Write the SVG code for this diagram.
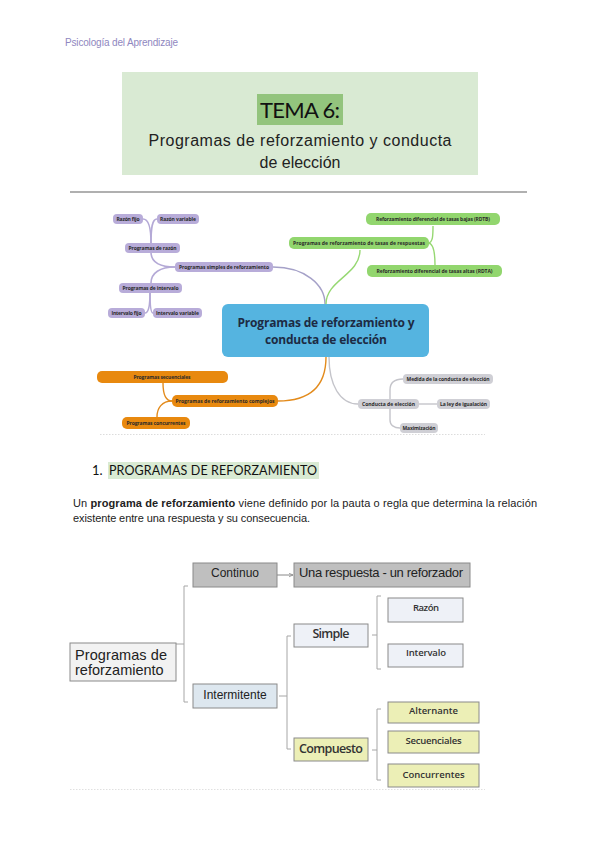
<svg xmlns="http://www.w3.org/2000/svg" width="599" height="848" viewBox="0 0 599 848">
<defs>
<style>
.mm{font-family:"Open Sans","DejaVu Sans",sans-serif;font-weight:700;font-size:5px;fill:#2a2a2a;text-anchor:middle}
.pu{fill:#b8acd9}
.gr{fill:#92d66e}
.or{fill:#e8890f}
.gy{fill:#cfcfd5}
.cp{fill:none;stroke:#b4a9d6;stroke-width:1.6}
.cg{fill:none;stroke:#96d872;stroke-width:1.4}
.co{fill:none;stroke:#e38b1c;stroke-width:1.4}
.cy{fill:none;stroke:#c4c4ca;stroke-width:1.4}
.br{fill:none;stroke:#a6a6a6;stroke-width:1}
.bx{stroke:#8a8a8a;stroke-width:1}
.ar{font-family:"Liberation Sans",Arial,sans-serif;fill:#222}
.gs{font-family:"Open Sans",Lato,sans-serif;font-weight:600;fill:#333;text-anchor:middle}
.ct{font-family:"Open Sans","DejaVu Sans",sans-serif;font-weight:700;font-size:12px;fill:#1d2b44;text-anchor:middle}
</style>
<marker id="ah" viewBox="0 0 10 10" refX="9" refY="5" markerWidth="5" markerHeight="5" orient="auto">
<path d="M0,1 L9,5 L0,9" fill="none" stroke="#888" stroke-width="1.5"/>
</marker>
</defs>
<rect width="599" height="848" fill="#ffffff"/>

<!-- header -->
<text x="65" y="46" font-family="Liberation Sans,Arial,sans-serif" font-size="10" fill="#8f87c0" textLength="113">Psicología del Aprendizaje</text>

<g id="title">
<rect x="122" y="72" width="356" height="103" fill="#d9ead3"/>
<rect x="257" y="94" width="86" height="31" fill="#93c47d"/>
<text x="300" y="118" font-family="Lato,'Open Sans',sans-serif" font-size="22" fill="#111" text-anchor="middle" textLength="80">TEMA 6:</text>
<text x="300" y="146" class="ar" font-size="16" text-anchor="middle" textLength="303">Programas de reforzamiento y conducta</text>
<text x="300" y="168" class="ar" font-size="16" text-anchor="middle">de elección</text>
</g>
<line x1="70" y1="192" x2="527" y2="192" stroke="#b0b0b0" stroke-width="2"/>

<!-- mind map connectors -->
<g id="mm-connectors">
<path class="cp" d="M175,267 C160,267 151,262 151,252"/>
<path class="cp" d="M175,267 C160,267 151,273 151,283"/>
<path class="cp" d="M151,243 C151,228 149,219 143,219"/>
<path class="cp" d="M151,243 C151,228 152,219 157,219"/>
<path class="cp" d="M150,293 C150,307 148,313 145,313"/>
<path class="cp" d="M150,293 C150,307 151,313 153,313"/>
<path fill="none" stroke="#a5a1c8" stroke-width="1.4" d="M273,267 C305,267 325,285 325,304"/>
<path class="cg" d="M326,304 C326,280 360,275 360,250"/>
<path class="cg" d="M428,243 C433,243 433,235 433,226"/>
<path class="cg" d="M428,243 C434,243 435,255 435,265"/>
<path class="co" d="M278,401 C312,401 326,385 326,357"/>
<path class="co" d="M172,401 C165,401 163,392 163,383"/>
<path class="co" d="M172,401 C162,401 157,408 157,417"/>
<path class="cy" d="M329,357 C329,385 340,404 358,404"/>
<path class="cy" d="M419,404 L437,404"/>
<path class="cy" d="M403,379 C394,379 390,383 390,390 L390,420 C390,425 394,428 400,428"/>
</g>

<!-- mind map nodes -->
<g id="mm-center">
<rect x="222" y="304" width="207" height="53" rx="6" fill="#55b4e0"/>
<text class="ct" x="326" y="327" textLength="177">Programas de reforzamiento y</text>
<text class="ct" x="326" y="344" textLength="122">conducta de elección</text>
</g>
<g id="mm-razon-fijo"><rect class="pu" x="113" y="214" width="30" height="10" rx="4"/><text class="mm" x="128" y="220.8" textLength="23">Razón fijo</text></g>
<g id="mm-razon-variable"><rect class="pu" x="157" y="214" width="42" height="10" rx="4"/><text class="mm" x="178" y="220.8" textLength="36">Razón variable</text></g>
<g id="mm-prog-razon"><rect class="pu" x="125" y="243" width="55" height="10" rx="4"/><text class="mm" x="152.5" y="249.8" textLength="48">Programas de razón</text></g>
<g id="mm-prog-simples"><rect class="pu" x="175" y="262" width="98" height="10" rx="4"/><text class="mm" x="224" y="268.8" textLength="90">Programas simples de reforzamiento</text></g>
<g id="mm-prog-intervalo"><rect class="pu" x="119" y="283" width="63" height="10" rx="4"/><text class="mm" x="150.5" y="289.8" textLength="56">Programas de intervalo</text></g>
<g id="mm-intervalo-fijo"><rect class="pu" x="108" y="308" width="37" height="10" rx="4"/><text class="mm" x="126.5" y="314.8" textLength="30">Intervalo fijo</text></g>
<g id="mm-intervalo-variable"><rect class="pu" x="153" y="308" width="49" height="10" rx="4"/><text class="mm" x="177.5" y="314.8" textLength="43">Intervalo variable</text></g>

<g id="mm-rdtb"><rect class="gr" x="366" y="213" width="134" height="12" rx="5"/><text class="mm" x="433" y="220.8" textLength="114">Reforzamiento diferencial de tasas bajas (RDTB)</text></g>
<g id="mm-tasas"><rect class="gr" x="289" y="237" width="140" height="12" rx="5"/><text class="mm" x="359" y="244.8" textLength="132">Programas de reforzamiento de tasas de respuestas</text></g>
<g id="mm-rdta"><rect class="gr" x="367" y="265" width="135" height="12" rx="5"/><text class="mm" x="434.5" y="272.8" textLength="116">Reforzamiento diferencial de tasas altas (RDTA)</text></g>

<g id="mm-secuenciales"><rect class="or" x="97" y="371" width="131" height="12" rx="5"/><text class="mm" x="162" y="378.8" textLength="57">Programas secuenciales</text></g>
<g id="mm-complejos"><rect class="or" x="172" y="395" width="106" height="12" rx="5"/><text class="mm" x="225" y="402.8" textLength="99">Programas de reforzamiento complejos</text></g>
<g id="mm-concurrentes"><rect class="or" x="122" y="417" width="68" height="12" rx="5"/><text class="mm" x="156" y="424.8" textLength="59">Programas concurrentes</text></g>

<g id="mm-medida"><rect class="gy" x="403" y="374" width="90" height="10" rx="4"/><text class="mm" x="448" y="380.8" textLength="83">Medida de la conducta de elección</text></g>
<g id="mm-conducta"><rect class="gy" x="358" y="399" width="61" height="10" rx="4"/><text class="mm" x="388.5" y="405.8" textLength="53">Conducta de elección</text></g>
<g id="mm-ley"><rect class="gy" x="437" y="399" width="53" height="10" rx="4"/><text class="mm" x="463.5" y="405.8" textLength="47">La ley de igualación</text></g>
<g id="mm-max"><rect class="gy" x="400" y="423" width="38" height="10" rx="4"/><text class="mm" x="419" y="429.8" textLength="33">Maximización</text></g>

<line x1="100" y1="434.5" x2="485" y2="434.5" stroke="#dcdcdc" stroke-width="1" stroke-dasharray="1.5,1.5"/>

<!-- section heading -->
<rect x="108" y="462" width="211" height="17" fill="#d9ead3"/>
<text x="92" y="475" font-family="Lato,'Open Sans',sans-serif" font-size="13" fill="#111">1.</text>
<text x="109" y="475" font-family="Lato,'Open Sans',sans-serif" font-size="12.5" fill="#111" textLength="208">PROGRAMAS DE REFORZAMIENTO</text>

<text x="73" y="507" class="ar" font-size="11" textLength="464">Un <tspan font-weight="700">programa de reforzamiento</tspan> viene definido por la pauta o regla que determina la relación</text>
<text x="73" y="522" class="ar" font-size="11" textLength="237">existente entre una respuesta y su consecuencia.</text>

<!-- bottom diagram connectors -->
<g id="tree-connectors">
<path class="br" d="M188,586 L184,586 L184,702 L188,702 M176,644 L184,644"/>
<path class="br" d="M291,636 L287,636 L287,749 L291,749 M279,696 L287,696"/>
<path class="br" d="M381,596 L377,596 L377,669 L381,669 M372,635 L377,635"/>
<path class="br" d="M381,709 L377,709 L377,780 L381,780 M372,750 L377,750"/>
<line x1="277" y1="575" x2="293" y2="575" stroke="#888" stroke-width="1" marker-end="url(#ah)"/>
</g>

<!-- bottom diagram nodes -->
<g id="n-programas"><rect class="bx" x="70" y="643" width="106" height="38" fill="#f2f2f2"/>
<text x="75" y="660" class="ar" font-size="14.5" textLength="92">Programas de</text>
<text x="75" y="675" class="ar" font-size="14.5">reforzamiento</text></g>
<g id="n-continuo"><rect class="bx" x="193" y="563" width="84" height="24" fill="#bfbfbf"/>
<text x="235" y="577" class="ar" font-size="12" text-anchor="middle">Continuo</text></g>
<g id="n-una"><rect class="bx" x="294" y="563" width="176" height="24" fill="#bfbfbf"/>
<text x="381" y="577" class="ar" font-size="13" text-anchor="middle" textLength="164">Una respuesta - un reforzador</text></g>
<g id="n-intermitente"><rect class="bx" x="193" y="684" width="84" height="24" fill="#dde7ef"/>
<text x="235" y="699" class="ar" font-size="12" text-anchor="middle">Intermitente</text></g>
<g id="n-simple"><rect class="bx" x="294" y="624" width="74" height="23" fill="#eef1f7"/>
<text x="331" y="638" class="gs" font-size="12.5" textLength="37">Simple</text></g>
<g id="n-razon"><rect class="bx" x="388" y="598" width="75" height="24" fill="#eef1f7"/>
<text x="426" y="611" class="gs" font-size="9.5" textLength="26">Razón</text></g>
<g id="n-intervalo"><rect class="bx" x="388" y="644" width="75" height="23" fill="#eef1f7"/>
<text x="426" y="656" class="gs" font-size="9.5" textLength="40">Intervalo</text></g>
<g id="n-compuesto"><rect class="bx" x="294" y="738" width="74" height="23" fill="#ecefb6"/>
<text x="331" y="753" class="gs" font-size="12.5" textLength="64">Compuesto</text></g>
<g id="n-alternante"><rect class="bx" x="388" y="702" width="91" height="21" fill="#ecefb6"/>
<text x="433.5" y="714" class="gs" font-size="9.5" textLength="49">Alternante</text></g>
<g id="n-secuenciales"><rect class="bx" x="388" y="731" width="91" height="22" fill="#ecefb6"/>
<text x="433.5" y="744" class="gs" font-size="9.5" textLength="56">Secuenciales</text></g>
<g id="n-concurrentes"><rect class="bx" x="388" y="764" width="91" height="23" fill="#ecefb6"/>
<text x="433.5" y="778" class="gs" font-size="9.5" textLength="62">Concurrentes</text></g>

<line x1="70" y1="789.5" x2="485" y2="789.5" stroke="#e0e0e0" stroke-width="1" stroke-dasharray="1.5,1.5"/>
</svg>
